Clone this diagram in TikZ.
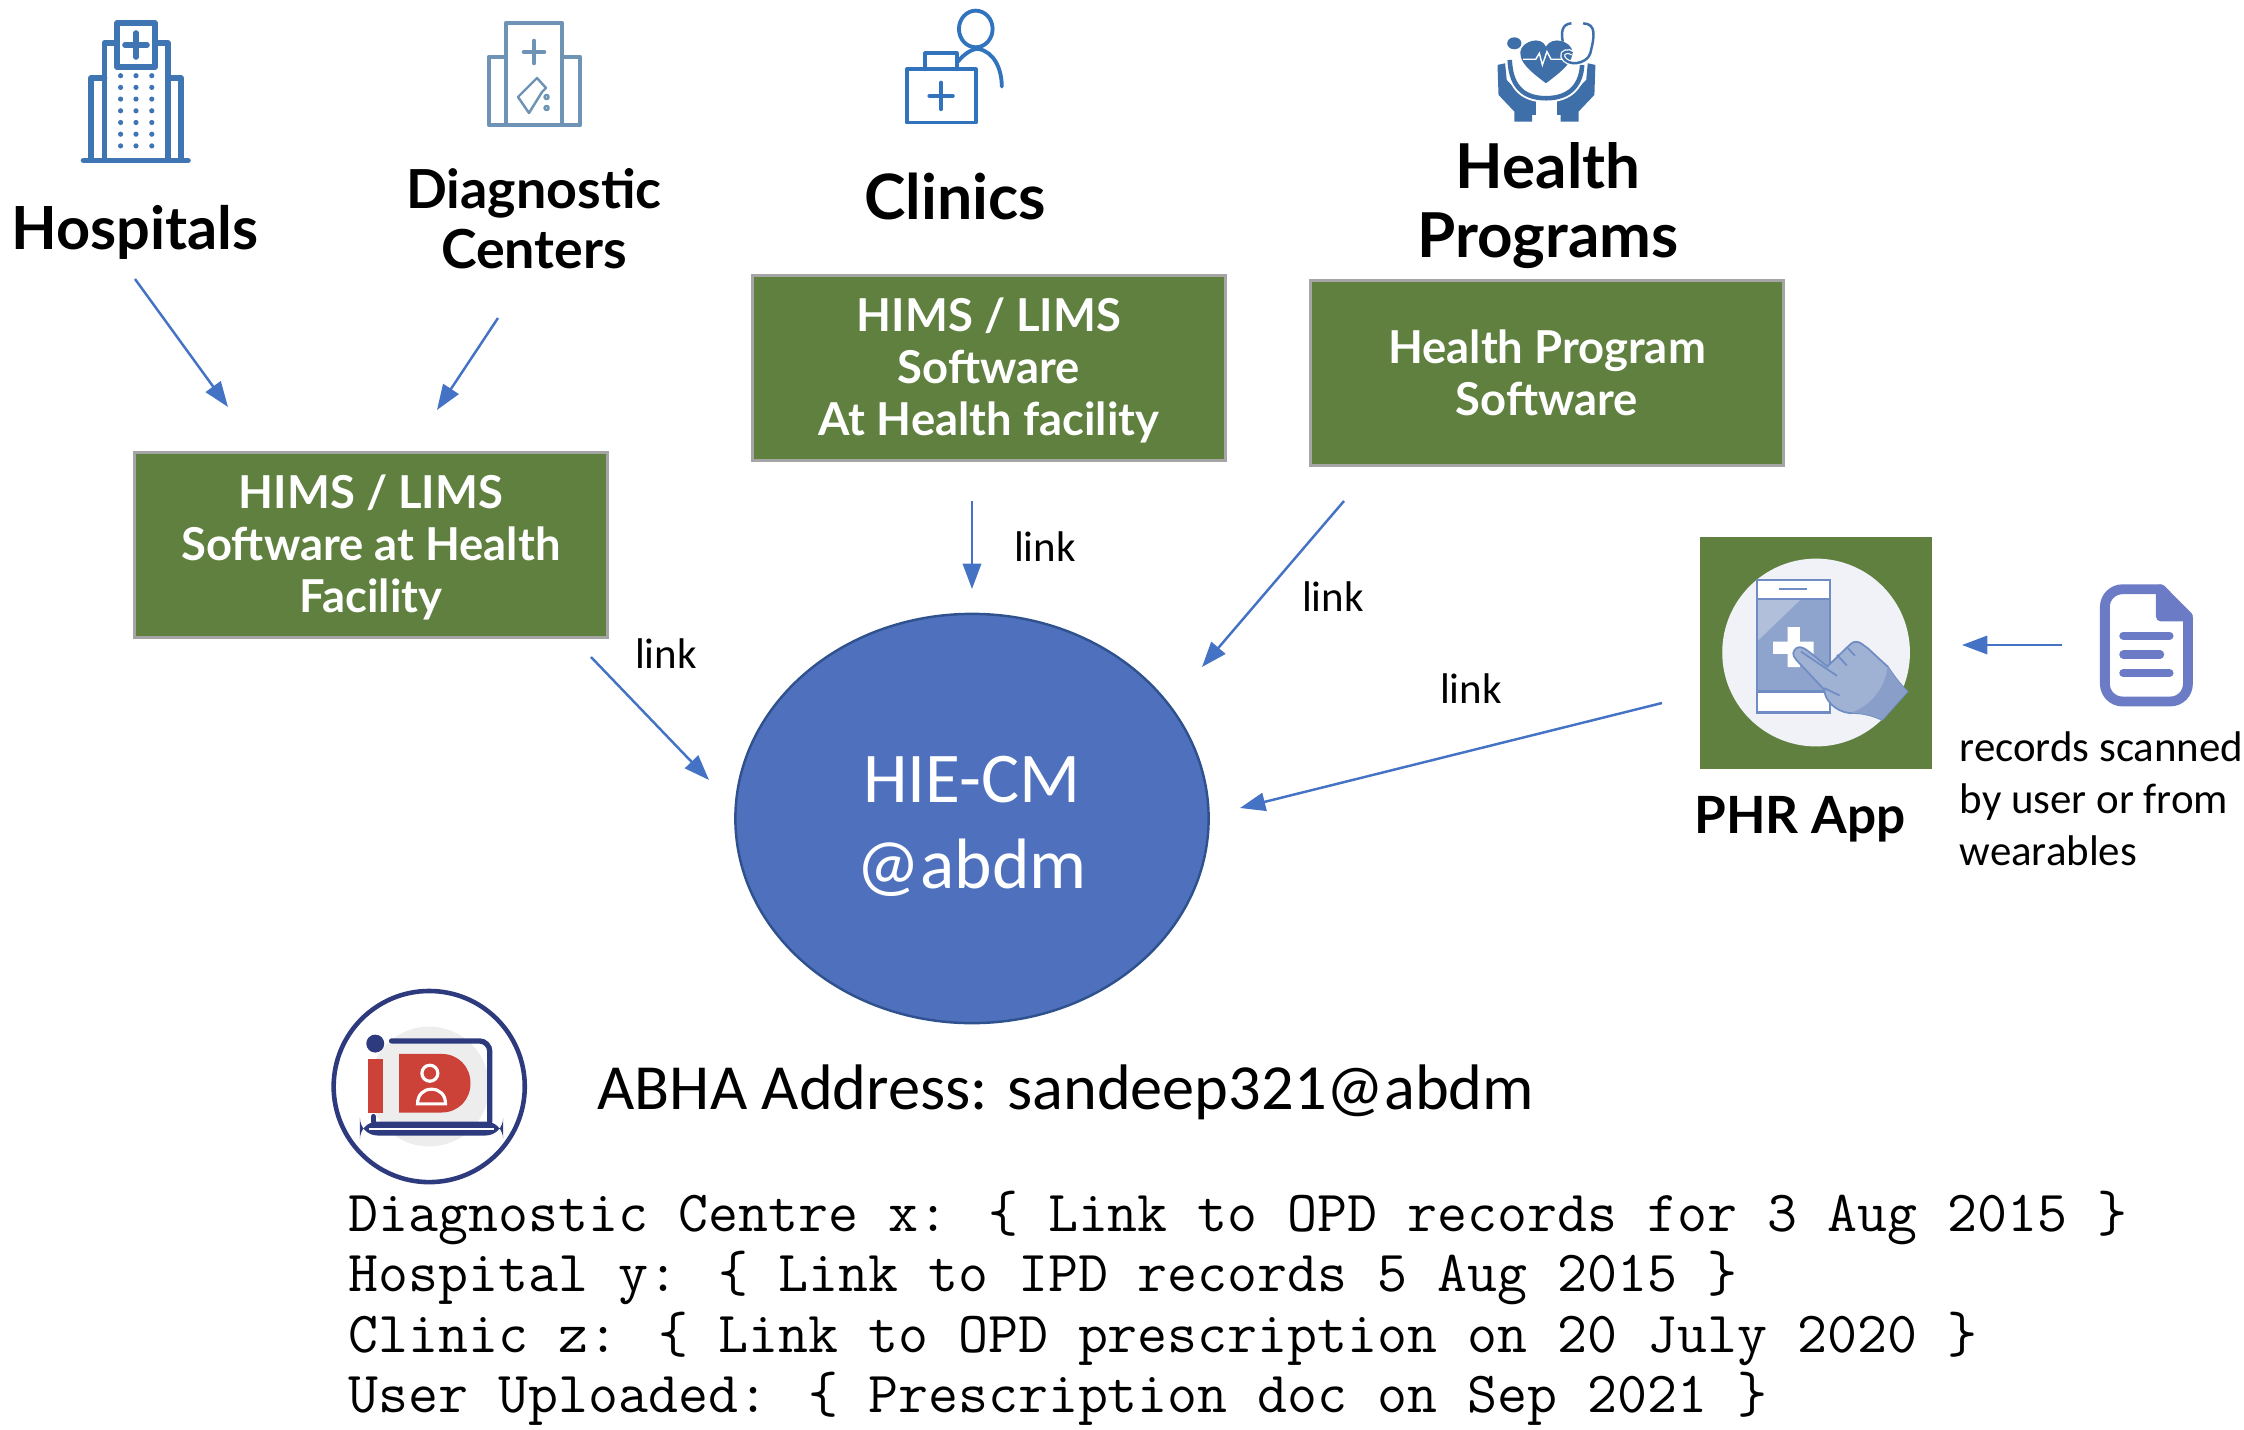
\documentclass[tikz,border=0pt]{standalone}
\usepackage{fontspec}
\usepackage{tikz}
\usetikzlibrary{positioning,arrows.meta,shapes.geometric}
\setmainfont{Carlito}
\newfontfamily\headfont{Lato}
\definecolor{boxgreen}{HTML}{5F803F}
\definecolor{boxedge}{HTML}{A5A5A5}
\definecolor{hieblue}{HTML}{4F71BD}
\definecolor{hieedge}{HTML}{2F528F}
\definecolor{linkblue}{HTML}{4472C4}
\definecolor{hospblue}{HTML}{3F75B3}
\definecolor{diagblue}{HTML}{6F93B4}
\definecolor{clinicblue}{HTML}{3273BE}
\definecolor{progblue}{HTML}{3F6FA8}
\definecolor{docblue}{HTML}{6C7BC6}
\definecolor{phrpale}{HTML}{F0F2F7}
\definecolor{phrmid}{HTML}{8FA4CC}
\definecolor{phredge}{HTML}{6F8DC4}
\definecolor{idnavy}{HTML}{2E3A7E}
\definecolor{idred}{HTML}{CC4138}

\begin{document}
\begin{tikzpicture}[
      x=0.01cm, y=-0.01cm,
      softbox/.style={rectangle, draw=boxedge, fill=boxgreen, line width=0.9pt, minimum width=4.72cm, minimum height=1.85cm, text=white, align=center, font=\fontsize{12.9}{14.8}\selectfont\headfont\bfseries},
      heading/.style={align=center, inner sep=0pt, font=\fontsize{16.9}{17}\selectfont\headfont\bfseries},
      lab/.style={inner sep=0pt, font=\fontsize{12.2}{14.8}\selectfont},
      arrow/.style={-{Stealth[length=7.2pt,width=5.2pt,inset=0pt]}, draw=linkblue, line width=0.7pt},
      hospline/.style={draw=hospblue, line width=1.6pt, line cap=round, line join=round},
      diagline/.style={draw=diagblue, line width=1.3pt, line cap=round, line join=round},
      clinicline/.style={draw=clinicblue, line width=1.1pt, line cap=round, line join=round}
    ]
    \useasboundingbox (0,0) rectangle (2244,1430);

    % labels on top
    \node[heading] (hospitals) at (135,232) {Hospitals};
    \node[heading, font=\fontsize{15.3}{17}\selectfont\headfont\bfseries] (diagnostic) at (534,219) {Diagnostic\\Centers};
    \node[heading, font=\fontsize{17.8}{17}\selectfont\headfont\bfseries] (clinics) at (955,196) {Clinics};
    \node[heading, font=\fontsize{17.6}{19.6}\selectfont\headfont\bfseries] (programs) at (1548,206) {Health\\Programs};

    % software boxes
    \node[softbox] (hospbox) at (371,545) {\rule{0pt}{11pt}HIMS / LIMS\\Software at Health\\Facility};
    \node[softbox] (clinicbox) at (989,368) {\rule{0pt}{11pt}HIMS / LIMS\\Software\\At Health facility};
    \node[softbox] (progbox) at (1547,373) {Health Program\\Software};

    % centre
    \node[ellipse, draw=hieedge, fill=hieblue, line width=0.7pt, minimum width=4.73cm, minimum height=4.09cm, inner sep=0pt, text=white, align=center, font=\fontsize{20.3}{24.5}\selectfont] (hie) at (972,818.5) {\rule{0pt}{17.5pt}HIE-CM\\@abdm};

    % app and records
    \node[rectangle, fill=boxgreen, minimum width=2.32cm, minimum height=2.32cm, inner sep=0pt] (phrbox) at (1816,653) {};
    \node[heading, font=\fontsize{14.6}{17}\selectfont\headfont\bfseries] (phrlabel) at (1800,819) {PHR App};
    \node[lab, align=left, anchor=north west] (scanned) at (1959,730.5) {records scanned\\by user or from\\wearables};

    % link labels
    \node[lab] (linka) at (666,654) {link};
    \node[lab] (linkb) at (1045,547) {link};
    \node[lab] (linkc) at (1333,597) {link};
    \node[lab] (linkd) at (1471,689) {link};

    % bottom text
    \node[inner sep=0pt, anchor=west, font=\fontsize{18.3}{20}\selectfont] (abha) at (597,1092) {ABHA Address: sandeep321@abdm};
    \node[inner sep=0pt, anchor=north west, align=left, font=\fontsize{16.55}{17.2}\selectfont\ttfamily] (records) at (348,1190) {Diagnostic Centre x: \{ Link to OPD records for 3 Aug 2015 \}\\
      Hospital y: \{ Link to IPD records 5 Aug 2015 \}\\
      Clinic z: \{ Link to OPD prescription on 20 July 2020 \}\\
      User Uploaded: \{ Prescription doc on Sep 2021 \}};

    % free arrow ends
    \coordinate (hospout) at (135,279);
    \coordinate (hospin) at (228,407);
    \coordinate (diagout) at (498,318);
    \coordinate (diagin) at (437,410);
    \coordinate (hospboxout) at (591,657);
    \coordinate (hiewest) at (709,780);
    \coordinate (clinicout) at (972,501);
    \coordinate (hietop) at (972,589);
    \coordinate (progout) at (1344,501);
    \coordinate (hieeast) at (1202,667);
    \coordinate (phrout) at (1662,703);
    \coordinate (hieright) at (1240,808);
    \coordinate (docout) at (2062,645);
    \coordinate (phrin) at (1962,645);

    \draw[arrow] (hospout) -- (hospin);
    \draw[arrow] (diagout) -- (diagin);
    \draw[arrow] (hospboxout) -- (hiewest);
    \draw[arrow] (clinicout) -- (hietop);
    \draw[arrow] (progout) -- (hieeast);
    \draw[arrow] (phrout) -- (hieright);
    \draw[arrow] (docout) -- (phrin);

    % hospital icon
    \begin{scope}[shift={(1,0)}]
      \draw[hospline] (82.5,160.5) -- (187,160.5);
      \draw[hospline] (90,160) -- (90,78) -- (103.5,78);
      \draw[hospline] (180,160) -- (180,78) -- (167,78);
      \draw[hospline] (103.5,160) -- (103.5,43) -- (116,43);
      \draw[hospline] (167,160) -- (167,43) -- (154,43);
      \draw[hospline] (116,23) rectangle (154,67);
      \draw[hospline] (124,45) -- (146,45) (135,33) -- (135,57);
      \foreach \col in {119.6,135,150.8}
        \foreach \row in {75.7,87.4,99.1,110.8,122.5,134.2,145.9}
          \fill[hospblue] (\col,\row) circle (2.6);
    \end{scope}

    % diagnostic icon
    \begin{scope}[shift={(-3,0)}]
      \draw[diagline] (492,125) rectangle (583,57);
      \draw[diagline, fill=white] (509,125) -- (509,23) -- (565,23) -- (565,125) -- cycle;
      \draw[diagline] (527,52) -- (547,52) (537,41) -- (537,63);
      \draw[diagline, line width=0.7pt] (540,78) -- (521,97) -- (532,113) -- (545,92) -- (549,88) -- cycle;
      \draw[diagline, line width=0.7pt] (549.6,97) circle (2) (549.6,108) circle (2);
    \end{scope}

    % clinic icon
    \begin{scope}[shift={(860,0)}, xscale=0.51, yscale=0.333]
      \draw[clinicline] (92,208) rectangle (227,368);
      \draw[clinicline] (128,208) -- (128,160) -- (190,160) -- (190,208);
      \draw[clinicline] (136,288) -- (182,288) (159,248) -- (159,328);
      \draw[clinicline] (227,87) ellipse (33 and 55);
      \draw[clinicline] (192,185) .. controls (205,160) and (222,145) .. (232,147) .. controls (262,155) and (278,205) .. (278,260);
    \end{scope}

    % programme icon
    \begin{scope}[shift={(860,0)}, xscale=0.51, yscale=0.333]
      \fill[progblue] (1250,195) -- (1265,190) -- (1268,240) -- (1300,290) -- (1325,300) -- (1325,345) -- (1318,345) -- (1318,365) -- (1283,365) -- (1283,335) -- (1252,285) -- cycle;
      \fill[progblue] (1442,195) -- (1427,190) -- (1424,240) -- (1392,290) -- (1367,300) -- (1367,345) -- (1374,345) -- (1374,365) -- (1409,365) -- (1409,335) -- (1440,285) -- cycle;
      \fill[progblue] (1345,250) .. controls (1310,210) and (1293,185) .. (1295,155) .. controls (1297,125) and (1335,105) .. (1345,140) .. controls (1358,105) and (1395,125) .. (1397,155) .. controls (1398,185) and (1380,210) .. (1345,250) -- cycle;
      \draw[white, line width=0.4pt] (1300,178) -- (1325,178) -- (1332,160) -- (1338,195) -- (1347,155) -- (1355,178) -- (1378,178);
      \draw[white, line width=2.4pt] (1274,180) .. controls (1276,250) and (1295,295) .. (1345,295) .. controls (1395,295) and (1414,250) .. (1416,195);
      \draw[progblue, line width=1.3pt] (1274,180) .. controls (1276,250) and (1295,295) .. (1345,295) .. controls (1395,295) and (1414,250) .. (1416,195);
      \fill[progblue] (1283,130) ellipse (14 and 18);
      \draw[white, line width=1.4pt] (1432,160) .. controls (1425,195) and (1385,200) .. (1378,170) .. controls (1375,155) and (1390,150) .. (1397,160);
      \draw[progblue, line width=0.7pt] (1395,70) .. controls (1375,72) and (1375,100) .. (1378,125);
      \draw[progblue, line width=0.7pt] (1418,70) .. controls (1445,72) and (1440,110) .. (1432,160) .. controls (1425,195) and (1385,200) .. (1378,170) .. controls (1375,155) and (1390,150) .. (1397,160);
    \end{scope}

    % app icon
    \begin{scope}[shift={(1680,520)}, xscale=0.361, yscale=0.333]
      \fill[phrpale] (377,398) ellipse (260 and 282);
      \fill[phrmid] (213,238) rectangle (415,515);
      \fill[phrmid!70!white] (213,238) -- (335,238) -- (213,365) -- cycle;
      \fill[white] (213,180) rectangle (415,238) (213,515) rectangle (415,578);
      \draw[phredge, line width=0.6pt] (213,180) rectangle (415,578) (213,238) -- (415,238) (213,515) -- (415,515);
      \draw[phredge, line width=0.6pt] (275,208) -- (352,208);
      \fill[white] (298,322) rectangle (332,442) (258,365) rectangle (370,402);
      \filldraw[draw=phredge, fill=phrmid!85!white, line width=0.5pt] (322,385) .. controls (340,375) and (350,390) .. (408,440) -- (470,375) .. controls (490,355) and (500,370) .. (520,385) -- (575,440) .. controls (590,465) and (610,495) .. (630,515) -- (560,600) .. controls (530,585) and (500,578) .. (470,580) .. controls (430,575) and (400,540) .. (400,510) -- (322,420) .. controls (310,405) and (312,395) .. (322,385) -- cycle;
      \fill[phrmid!80!phredge] (630,515) -- (560,600) .. controls (530,585) and (500,578) .. (470,580) .. controls (530,560) and (570,500) .. (575,440) .. controls (590,465) and (610,495) .. (630,515) -- cycle;
      \draw[phredge, line width=0.5pt] (335,395) -- (435,468) (400,505) -- (442,527) (435,405) -- (462,437) (465,385) -- (485,408);
    \end{scope}

    % document icon
    \begin{scope}[shift={(1680,520)}, xscale=0.361, yscale=0.333]
      \draw[docblue, line width=2.8pt, rounded corners=5pt] (1332,208) -- (1177,208) -- (1177,545) -- (1407,545) -- (1407,290);
      \filldraw[docblue, line width=2.8pt, line join=round] (1332,208) -- (1407,290) -- (1332,290) -- cycle;
      \draw[docblue, line width=2.3pt, line cap=round] (1228,347) -- (1356,347) (1228,404) -- (1330,404) (1228,460) -- (1356,460);
    \end{scope}

    % id icon
    \begin{scope}[shift={(310,970)}, scale=0.333]
      \fill[black!7] (358,350) circle (180);
      \draw[idnavy, line width=1.3pt] (358,350) circle (287);
      \fill[idnavy] (196,221) circle (27);
      \draw[idnavy, line width=1.5pt, line cap=round, rounded corners=3pt] (245,213) -- (540,213) -- (540,455);
      \fill[idred] (175,268) rectangle (218,430);
      \fill[idred] (268,252) -- (395,252) .. controls (445,252) and (482,290) .. (482,340) .. controls (482,390) and (445,428) .. (395,428) -- (268,428) -- cycle;
      \draw[white, line width=0.9pt] (360,310) circle (24);
      \draw[white, line width=0.9pt] (323,402) .. controls (323,375) and (340,358) .. (365,358) .. controls (390,358) and (407,375) .. (407,402) -- cycle;
      \draw[idnavy, line width=1.5pt, line cap=round] (190,440) -- (190,455);
      \fill[idnavy, rounded corners=5pt] (150,455) rectangle (580,497);
      \draw[white, line width=0.4pt] (178,477) -- (552,477);
    \end{scope}
    \end{tikzpicture}
\end{document}
